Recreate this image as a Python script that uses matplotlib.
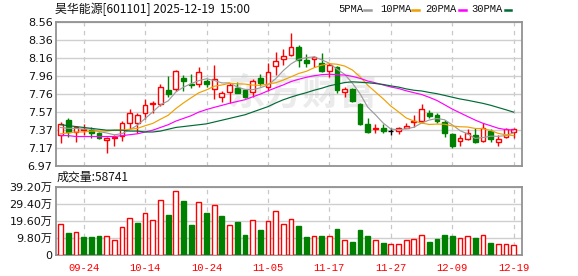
import numpy as np
import matplotlib
matplotlib.use("Agg")
import matplotlib.pyplot as plt
from matplotlib.lines import Line2D

# ---------------- data ----------------
opens = [7.304, 7.473, 7.337, 7.363, 7.363, 7.326, 7.253, 7.271, 7.297, 7.444,
         7.436, 7.547, 7.646, 7.650, 7.804, 7.811, 7.932, 7.866, 7.866, 7.903,
         7.811, 7.723, 7.778, 7.822, 7.804, 7.778, 7.932, 7.833, 8.072, 8.149,
         8.185, 8.281, 8.134, 8.141, 8.097, 8.017, 8.061, 7.778, 7.815, 7.650,
         7.425, 7.378, 7.389, 7.352, 7.356, 7.389, 7.451, 7.462, 7.547, 7.524,
         7.455, 7.319, 7.238, 7.264, 7.308, 7.238, 7.352, 7.227, 7.282, 7.337]
closes = [7.429, 7.345, 7.392, 7.378, 7.334, 7.271, 7.271, 7.289, 7.444, 7.547,
          7.524, 7.635, 7.660, 7.833, 7.763, 8.013, 7.906, 7.855, 7.998, 7.866,
          7.921, 7.771, 7.855, 7.774, 7.730, 7.906, 7.877, 8.006, 8.123, 8.178,
          8.274, 8.134, 8.097, 8.163, 8.017, 8.083, 7.804, 7.811, 7.682, 7.425,
          7.345, 7.385, 7.356, 7.352, 7.381, 7.407, 7.466, 7.591, 7.517, 7.466,
          7.334, 7.187, 7.275, 7.326, 7.224, 7.385, 7.260, 7.264, 7.370, 7.374]
highs = [7.455, 7.495, 7.407, 7.429, 7.392, 7.345, 7.289, 7.304, 7.458, 7.591,
         7.547, 7.708, 7.686, 7.866, 7.958, 8.024, 7.972, 7.976, 8.053, 7.928,
         8.075, 7.796, 7.877, 7.888, 7.811, 7.925, 7.976, 8.105, 8.218, 8.252,
         8.428, 8.300, 8.200, 8.178, 8.207, 8.097, 8.068, 7.840, 7.822, 7.657,
         7.492, 7.425, 7.425, 7.381, 7.392, 7.436, 7.528, 7.650, 7.583, 7.547,
         7.473, 7.326, 7.308, 7.370, 7.381, 7.444, 7.370, 7.308, 7.389, 7.389]
lows = [7.223, 7.282, 7.234, 7.308, 7.271, 7.267, 7.113, 7.187, 7.245, 7.371,
        7.334, 7.480, 7.547, 7.627, 7.730, 7.796, 7.789, 7.829, 7.840, 7.840,
        7.708, 7.675, 7.664, 7.767, 7.712, 7.727, 7.851, 7.793, 7.969, 8.079,
        8.180, 8.061, 8.061, 8.061, 8.006, 7.943, 7.774, 7.730, 7.675, 7.418,
        7.334, 7.326, 7.334, 7.308, 7.315, 7.381, 7.400, 7.436, 7.491, 7.436,
        7.289, 7.168, 7.187, 7.253, 7.216, 7.231, 7.224, 7.190, 7.275, 7.271]

ma5 = [7.39, 7.38, 7.38, 7.37, 7.376, 7.344, 7.329, 7.309, 7.322, 7.364,
       7.415, 7.488, 7.562, 7.640, 7.683, 7.781, 7.835, 7.874, 7.907, 7.928,
       7.909, 7.882, 7.882, 7.837, 7.810, 7.807, 7.828, 7.859, 7.928, 8.018,
       8.092, 8.143, 8.161, 8.169, 8.137, 8.099, 8.033, 7.976, 7.879, 7.761,
       7.613, 7.530, 7.439, 7.373, 7.364, 7.376, 7.392, 7.439, 7.472, 7.489,
       7.475, 7.419, 7.356, 7.318, 7.269, 7.279, 7.294, 7.292, 7.301, 7.331]
ma10 = [7.32, 7.33, 7.34, 7.34, 7.35, 7.35, 7.35, 7.36, 7.36, 7.370,
        7.380, 7.409, 7.435, 7.481, 7.524, 7.598, 7.661, 7.718, 7.773, 7.805,
        7.845, 7.859, 7.878, 7.872, 7.869, 7.858, 7.855, 7.870, 7.883, 7.914,
        7.949, 7.986, 8.010, 8.049, 8.078, 8.095, 8.088, 8.068, 8.024, 7.949,
        7.856, 7.781, 7.707, 7.626, 7.562, 7.495, 7.461, 7.439, 7.423, 7.427,
        7.426, 7.406, 7.398, 7.395, 7.379, 7.377, 7.357, 7.324, 7.309, 7.300]
ma20 = [7.30, 7.30, 7.29, 7.29, 7.29, 7.29, 7.29, 7.29, 7.30, 7.31,
        7.32, 7.34, 7.36, 7.39, 7.42, 7.46, 7.49, 7.52, 7.56, 7.588,
        7.612, 7.634, 7.657, 7.677, 7.696, 7.728, 7.758, 7.794, 7.828, 7.860,
        7.897, 7.922, 7.944, 7.961, 7.973, 7.977, 7.972, 7.969, 7.954, 7.932,
        7.903, 7.883, 7.859, 7.837, 7.820, 7.795, 7.774, 7.754, 7.723, 7.688,
        7.641, 7.593, 7.552, 7.511, 7.471, 7.436, 7.409, 7.381, 7.366, 7.363]
ma30 = [7.42, 7.41, 7.40, 7.39, 7.38, 7.37, 7.36, 7.36, 7.36, 7.35,
        7.35, 7.34, 7.34, 7.35, 7.37, 7.39, 7.40, 7.41, 7.42, 7.43,
        7.45, 7.47, 7.49, 7.51, 7.53, 7.56, 7.59, 7.62, 7.66, 7.696,
        7.725, 7.751, 7.774, 7.801, 7.823, 7.850, 7.868, 7.886, 7.894, 7.889,
        7.884, 7.875, 7.865, 7.849, 7.836, 7.816, 7.801, 7.793, 7.777, 7.763,
        7.744, 7.724, 7.705, 7.690, 7.673, 7.656, 7.635, 7.610, 7.585, 7.559]

volumes = [17.5, 12.6, 12.9, 10.1, 10.1, 10.8, 10.7, 8.4, 15.8, 20.9,
           18.3, 23.8, 19.8, 31.2, 22.8, 36.4, 30.8, 17.1, 30.6, 24.0,
           28.5, 22.3, 16.9, 18.8, 11.4, 19.8, 14.3, 19.2, 24.9, 17.5,
           20.4, 16.6, 10.3, 10.7, 10.8, 10.7, 14.8, 8.4, 7.4, 14.3,
           10.8, 8.6, 6.9, 6.3, 6.3, 8.6, 9.1, 11.4, 7.4, 9.1,
           11.4, 10.8, 9.5, 10.8, 9.7, 11.4, 6.9, 6.3, 6.3, 5.87]  # 万
vol_up = [1, 0, 1, 0, 0, 0, 1, 1, 1, 1,
          0, 1, 1, 1, 0, 1, 0, 0, 1, 0,
          1, 0, 1, 0, 0, 1, 0, 1, 1, 1,
          1, 0, 0, 1, 0, 1, 0, 1, 0, 0,
          0, 1, 0, 1, 1, 1, 1, 1, 0, 0,
          0, 0, 1, 1, 0, 1, 0, 1, 1, 1]

date_tick_idx = [3, 11, 19, 27, 35, 43, 51, 59]
date_labels = ['09-24', '10-14', '10-24', '11-05', '11-17', '11-27', '12-09', '12-19']
price_min, price_max = 6.97, 8.56
price_labels = ['6.97', '7.17', '7.37', '7.57', '7.76', '7.96', '8.16', '8.36', '8.56']
vol_ticks = [0, 9.8, 19.6, 29.4, 39.2]
vol_labels = ['0', '9.80万', '19.60万', '29.40万', '39.20万']
title = '昊华能源[601101] 2025-12-19  15:00'
vol_title = '成交量:58741'
ma_names = ['5PMA', '10PMA', '20PMA', '30PMA']

# ---------------- styling ----------------
RED = '#ff0000'
GREEN = '#008000'
MA_COLORS = ['#9c9c9c', '#f0a000', '#ff00ff', '#006b35']
GRID = '#cfcfcf'
FRAME = '#929292'
CJK = ['Noto Sans CJK SC']
MONO = ['Liberation Mono', 'DejaVu Sans Mono']

W, H = 578, 276
fig = plt.figure(figsize=(W / 100, H / 100), dpi=100)


def rect(l, t, r, b):
    return [l / W, 1 - b / H, (r - l) / W, (b - t) / H]


ax = fig.add_axes(rect(56, 21.5, 522, 165.5))
axv = fig.add_axes(rect(56, 186.5, 522, 255))

o = np.array(opens); c = np.array(closes)
hi = np.array(highs); lo = np.array(lows)
n = len(o)
x = np.arange(n)
xlim = (-0.6, n - 1 + 1.08)
bw = 0.62

# ----- price panel -----
ax.set_xlim(*xlim)
ax.set_ylim(price_min, price_max)
ax.set_yticks(np.linspace(price_min, price_max, len(price_labels)))
ax.set_yticklabels(price_labels)
ax.set_xticks([])
ax.grid(axis='y', color=GRID, lw=1.0, zorder=0)
for t in date_tick_idx:
    ax.axvline(t, color='#c8c8c8', lw=0.9, ls=(0, (3.5, 3.5)), zorder=0)

ax.text(0.530, 0.497, '东方财富', transform=ax.transAxes, ha='center', va='center',
        fontsize=27, family=CJK, fontweight='bold', color='#ebebeb', zorder=0.5)

up = c > o
dn = c < o
eq = c == o
cols = np.where(up, RED, np.where(dn, GREEN, '#000000'))
ax.vlines(x, lo, hi, colors=cols, lw=1.0, zorder=3)
ax.bar(x[up], (c - o)[up], bottom=o[up], width=bw, facecolor='white',
       edgecolor=RED, lw=1.0, zorder=4)
ax.bar(x[dn], (o - c)[dn], bottom=c[dn], width=bw, facecolor=GREEN,
       edgecolor=GREEN, lw=1.0, zorder=4)
ax.hlines(o[eq], x[eq] - bw / 2, x[eq] + bw / 2, colors='#000000', lw=1.0, zorder=4)

for ma, col in zip([ma5, ma10, ma20, ma30], MA_COLORS):
    ax.plot(x, ma, color=col, lw=0.85, zorder=5)

ax.tick_params(axis='both', length=0, labelsize=8, pad=2.5, labelcolor='#111111')

# ----- volume panel -----
axv.set_xlim(*xlim)
axv.set_ylim(0, vol_ticks[-1])
axv.set_yticks(vol_ticks)
axv.set_yticklabels(vol_labels, family=['DejaVu Sans', 'Noto Sans CJK SC'])
axv.grid(axis='y', color=GRID, lw=1.0, zorder=0)
for t in date_tick_idx:
    axv.axvline(t, color='#c8c8c8', lw=0.9, ls=(0, (3.5, 3.5)), zorder=0)
v = np.array(volumes)
vu = np.array(vol_up).astype(bool)
axv.bar(x[vu], v[vu], width=bw, facecolor='white', edgecolor=RED, lw=1.0, zorder=3)
axv.bar(x[~vu], v[~vu], width=bw, facecolor=GREEN, edgecolor=GREEN, lw=1.0, zorder=3)
axv.set_xticks(date_tick_idx)
axv.set_xticklabels(date_labels, family=MONO, color=RED, fontsize=7.6)
axv.tick_params(axis='x', length=0, pad=5.5)
axv.tick_params(axis='y', length=0, labelsize=8, pad=2.5, labelcolor='#111111')

for a in (ax, axv):
    for s in a.spines.values():
        s.set_color(FRAME)
        s.set_linewidth(1.3)

# ----- texts -----
fig.text(55 / W, 1 - 9.5 / H, title, family=CJK, fontsize=8.6, va='center',
         ha='left', color='#111111')
fig.text(57 / W, 1 - 177.5 / H, vol_title, family=CJK, fontsize=8.6, va='center',
         ha='left', color='#111111')

leg_text_x = [338, 380, 425, 471]
leg_mark_x = [(364, 371), (412, 419), (459, 466), (505, 511)]
for name, tx, (m0, m1), col in zip(ma_names, leg_text_x, leg_mark_x, MA_COLORS):
    fig.text(tx / W, 1 - 9.5 / H, name, family=MONO, fontsize=7.6, va='center',
             ha='left', color='#111111')
    fig.add_artist(Line2D([m0 / W, m1 / W], [1 - 9.5 / H, 1 - 9.5 / H],
                          transform=fig.transFigure, color=col, lw=1.8))

fig.savefig('out.png', dpi=100)
